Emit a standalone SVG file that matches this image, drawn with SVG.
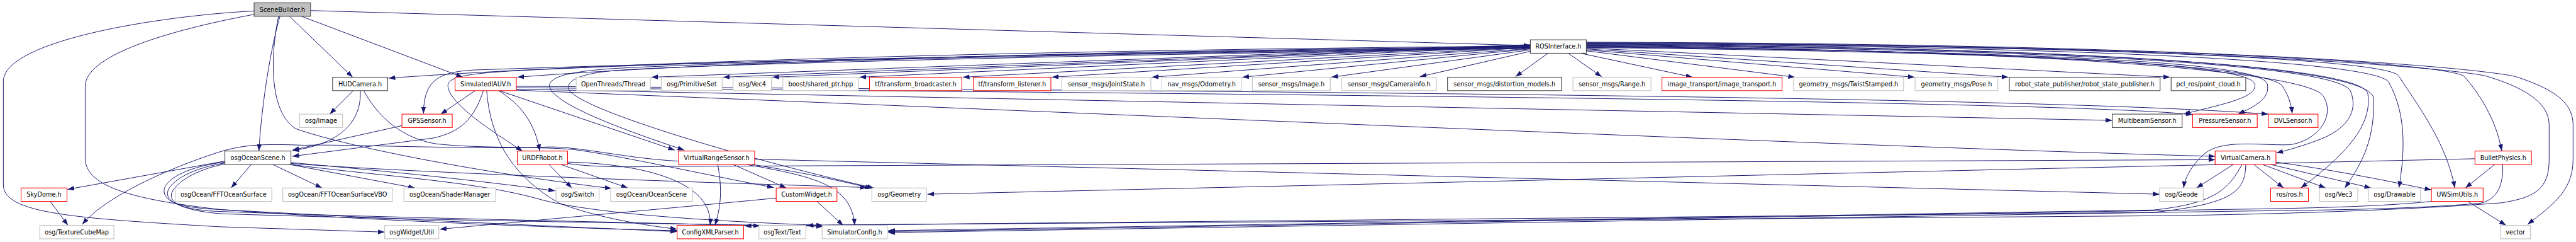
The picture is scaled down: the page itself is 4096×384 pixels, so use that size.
<svg xmlns="http://www.w3.org/2000/svg" width="4096" height="384" viewBox="0 0 4096 384">
<defs>
<marker id="a" markerUnits="userSpaceOnUse" viewBox="0 0 14 10" refX="14" refY="5" markerWidth="14" markerHeight="10" orient="auto">
<path d="M0,0 L14,5 L0,10 z" fill="#191970"/>
</marker>
<style>
.e path{fill:none;stroke:#191970;stroke-width:1.3;marker-end:url(#a)}
.n rect{fill:#fff;stroke-width:1.4}
.n text{font-family:"DejaVu Sans","Liberation Sans",sans-serif;font-size:12.8px;text-anchor:middle;fill:#000}
.g rect{stroke:#bfbfbf}
.r rect{stroke:#ff0000}
.k rect{stroke:#404040}
.root rect{fill:#bfbfbf;stroke:#404040}
</style>
</defs>
<rect width="4096" height="384" fill="#fff"/>
<g transform="scale(0.7609)">
<g id="edges" class="e">
<path d="M531,23 C330,33 7,85 7,170 L7,385 C7,445 150,455 460,473 L804,484"/>
<path d="M531,30 C380,58 178,110 178,180 L178,330 C178,395 300,418 460,437 C800,462 1200,476 1415,481"/>
<path d="M649,22 L3198,95"/>
<path d="M605,34 L737,161"/>
<path d="M630,34 L967,161"/>
<path d="M585,34 C563,110 546,230 541,315"/>
<path d="M582,34 C566,110 560,230 617,268 C720,305 1000,360 1278,393"/>
<path d="M3198,96 C2200,104 1300,128 812,163"/>
<path d="M3198,97 C2300,106 1500,128 1081,161"/>
<path d="M3198,98 C2300,108 1300,135 990,146 C920,150 885,165 885,237"/>
<path d="M3198,99 C2300,110 1500,128 1200,142 C1000,150 938,155 936,178 C936,215 1030,275 1092,315"/>
<path d="M3198,100 C2300,112 1500,130 1280,143 C1180,150 1150,162 1148,178 C1150,215 1300,270 1430,313"/>
<path d="M3198,101 C2300,114 1500,133 1300,146 C1210,152 1185,168 1188,185 C1200,225 1550,330 1826,392"/>
<path d="M3198,93 L1361,161"/>
<path d="M3198,94 L1511,161"/>
<path d="M3198,95 L1614,161"/>
<path d="M3198,96 L1796,161"/>
<path d="M3198,98 L2012,161"/>
<path d="M3198,99 L2198,161"/>
<path d="M3198,101 L2407,161"/>
<path d="M3198,102 L2596,161"/>
<path d="M3198,104 L2782,161"/>
<path d="M3198,107 L2967,160"/>
<path d="M3235,111 L3167,160"/>
<path d="M3277,111 L3347,160"/>
<path d="M3303,111 L3537,161"/>
<path d="M3315,106 L3751,161"/>
<path d="M3315,104 L4001,161"/>
<path d="M3315,102 L4197,161"/>
<path d="M3315,100 L4535,161"/>
<path d="M3315,99 C4300,110 4720,135 4712,178 C4714,205 4640,218 4563,238"/>
<path d="M3315,98 C4300,108 4725,130 4738,175 C4745,205 4712,222 4677,238"/>
<path d="M3315,97 C4300,106 4745,140 4770,180 C4782,200 4788,215 4790,237"/>
<path d="M3315,96 C4300,104 4820,150 4855,200 C4885,250 4830,300 4780,302 C4720,303 4640,290 4605,322 C4580,345 4566,370 4563,392"/>
<path d="M3315,95 C4400,103 4890,140 4912,190 C4930,235 4900,270 4850,290 C4810,305 4785,312 4757,319"/>
<path d="M3315,94 C4400,100 4935,140 4948,195 C4958,260 4905,320 4808,392"/>
<path d="M3315,93 C4400,98 4955,140 4960,205 C4963,285 4940,335 4900,392"/>
<path d="M3315,92 C4400,96 4975,130 4992,172 C5030,240 5025,320 5013,392"/>
<path d="M3315,91 C4500,95 4995,128 5012,158 C5060,230 5112,300 5130,392"/>
<path d="M3315,90 C4600,93 5130,135 5150,160 C5190,205 5218,260 5228,315"/>
<path d="M3315,89 C4600,92 5160,145 5200,160 C5290,188 5327,220 5327,262 L5327,333 C5327,392 5300,412 5227,423 C5000,440 4700,448 4500,450 C3500,458 2000,466 1686,470"/>
<path d="M3315,88 C4700,91 5200,145 5258,160 C5350,190 5377,220 5377,262 L5377,333 C5377,400 5330,430 5282,468"/>
<path d="M5213,343 L5152,392"/>
<path d="M5172,331 L1938,405"/>
<path d="M5230,343 C5232,395 5212,418 5182,424 C5050,435 4900,438 4700,440 L1856,485"/>
<path d="M5157,420 L5237,470"/>
<path d="M5081,420 C5000,428 4900,433 4700,436 L1856,483"/>
<path d="M4667,343 L4590,392"/>
<path d="M4710,343 L4772,392"/>
<path d="M4728,343 L4860,392"/>
<path d="M4745,343 L4955,392"/>
<path d="M4756,338 C4900,358 5000,380 5081,396"/>
<path d="M4685,343 C4655,400 4620,425 4500,438 L1856,481"/>
<path d="M4693,343 C4692,400 4665,425 4500,443 L1556,471"/>
<path d="M1500,343 C1507,385 1510,420 1494,470"/>
<path d="M1532,343 L1643,392"/>
<path d="M1560,343 C1700,368 1780,385 1786,470"/>
<path d="M1577,332 L4513,405"/>
<path d="M1572,343 C1680,360 1760,378 1822,393"/>
<path d="M1418,336 C1300,330 1200,302 1133,307 C1000,312 700,300 637,303 C560,300 510,300 455,318 C350,352 220,410 172,468"/>
<path d="M1147,343 L1195,392"/>
<path d="M1172,343 L1312,392"/>
<path d="M1186,338 C1350,342 1490,380 1484,470"/>
<path d="M1186,341 C1250,350 1320,348 1400,347 L4629,333"/>
<path d="M1707,420 L1762,470"/>
<path d="M1622,413 C1500,425 1200,452 919,478"/>
<path d="M993,189 L921,238"/>
<path d="M1010,189 C992,245 965,275 905,288 L611,326"/>
<path d="M1017,189 C1025,300 1080,372 1167,423 C1250,455 1350,470 1415,478"/>
<path d="M1042,189 C1100,225 1120,270 1128,315"/>
<path d="M1043,189 L1410,313"/>
<path d="M1079,180 C3000,192 4300,205 4740,238"/>
<path d="M1079,183 C3000,198 4350,214 4582,239"/>
<path d="M1079,186 L4414,251"/>
<path d="M1079,188 C2500,245 4000,310 4629,326"/>
<path d="M840,262 L611,313"/>
<path d="M738,189 L689,238"/>
<path d="M753,189 C756,262 700,302 611,314"/>
<path d="M760,189 C800,262 860,292 912,300 C1000,310 1130,305 1200,312 C1300,325 1500,370 1617,391"/>
<path d="M470,336 L141,395"/>
<path d="M525,343 L483,392"/>
<path d="M570,343 L673,392"/>
<path d="M605,343 L867,392"/>
<path d="M608,339 C750,352 950,370 1160,398"/>
<path d="M608,341 C900,362 1450,380 1812,391"/>
<path d="M608,343 C800,368 1000,378 1133,417 C1250,447 1500,462 1720,470"/>
<path d="M470,338 C385,348 340,378 343,400 C346,428 400,434 460,437 C800,456 1200,474 1415,483"/>
<path d="M470,340 C390,352 348,385 350,405 C352,432 420,440 460,441 C800,454 1300,463 1588,471"/>
<path d="M470,342 C395,356 355,392 358,410 C362,435 430,444 470,446 C900,460 1400,466 1720,472"/>
<path d="M105,420 L142,470"/>
</g>
<g id="n_SceneBuilder" class="n root"><rect x="531" y="6" width="118" height="28"/><text x="590" y="24.5">SceneBuilder.h</text></g>
<g id="n_ROSInterface" class="n k"><rect x="3198" y="83" width="117" height="28"/><text x="3256.5" y="101.5">ROSInterface.h</text></g>
<g id="n_HUDCamera" class="n k"><rect x="695" y="161" width="115" height="28"/><text x="752.5" y="179.5">HUDCamera.h</text></g>
<g id="n_SimulatedIAUV" class="n r"><rect x="951" y="161" width="128" height="28"/><text x="1015" y="179.5">SimulatedIAUV.h</text></g>
<g id="n_OpenThreads" class="n g"><rect x="1204" y="161" width="155" height="28"/><text x="1281.5" y="179.5">OpenThreads/Thread</text></g>
<g id="n_PrimitiveSet" class="n g"><rect x="1382" y="161" width="127" height="28"/><text x="1445.5" y="179.5">osg/PrimitiveSet</text></g>
<g id="n_Vec4" class="n g"><rect x="1532" y="161" width="80" height="28"/><text x="1572" y="179.5">osg/Vec4</text></g>
<g id="n_shared_ptr" class="n g"><rect x="1636" y="161" width="158" height="28"/><text x="1715" y="179.5">boost/shared_ptr.hpp</text></g>
<g id="n_tf_broadcaster" class="n r"><rect x="1817" y="161" width="193" height="28"/><text x="1913.5" y="179.5">tf/transform_broadcaster.h</text></g>
<g id="n_tf_listener" class="n r"><rect x="2034" y="161" width="162" height="28"/><text x="2115" y="179.5">tf/transform_listener.h</text></g>
<g id="n_JointState" class="n g"><rect x="2219" y="161" width="186" height="28"/><text x="2312" y="179.5">sensor_msgs/JointState.h</text></g>
<g id="n_Odometry" class="n g"><rect x="2428" y="161" width="166" height="28"/><text x="2511" y="179.5">nav_msgs/Odometry.h</text></g>
<g id="n_ImageMsg" class="n g"><rect x="2617" y="161" width="163" height="28"/><text x="2698.5" y="179.5">sensor_msgs/Image.h</text></g>
<g id="n_CameraInfo" class="n g"><rect x="2804" y="161" width="198" height="28"/><text x="2903" y="179.5">sensor_msgs/CameraInfo.h</text></g>
<g id="n_distortion" class="n k"><rect x="3025" y="161" width="238" height="28"/><text x="3144" y="179.5">sensor_msgs/distortion_models.h</text></g>
<g id="n_Range" class="n g"><rect x="3287" y="161" width="163" height="28"/><text x="3368.5" y="179.5">sensor_msgs/Range.h</text></g>
<g id="n_image_transport" class="n r"><rect x="3473" y="161" width="251" height="28"/><text x="3598.5" y="179.5">image_transport/image_transport.h</text></g>
<g id="n_TwistStamped" class="n g"><rect x="3748" y="161" width="230" height="28"/><text x="3863" y="179.5">geometry_msgs/TwistStamped.h</text></g>
<g id="n_Pose" class="n g"><rect x="4002" y="161" width="173" height="28"/><text x="4088.5" y="179.5">geometry_msgs/Pose.h</text></g>
<g id="n_rsp" class="n k"><rect x="4199" y="161" width="315" height="28"/><text x="4356.5" y="179.5">robot_state_publisher/robot_state_publisher.h</text></g>
<g id="n_pcl" class="n k"><rect x="4537" y="161" width="156" height="28"/><text x="4615" y="179.5">pcl_ros/point_cloud.h</text></g>
<g id="n_osgImage" class="n g"><rect x="626" y="238" width="90" height="28"/><text x="671" y="256.5">osg/Image</text></g>
<g id="n_GPSSensor" class="n r"><rect x="840" y="238" width="105" height="28"/><text x="892.5" y="256.5">GPSSensor.h</text></g>
<g id="n_Multibeam" class="n k"><rect x="4414" y="238" width="146" height="28"/><text x="4487" y="256.5">MultibeamSensor.h</text></g>
<g id="n_Pressure" class="n r"><rect x="4582" y="238" width="135" height="28"/><text x="4649.5" y="256.5">PressureSensor.h</text></g>
<g id="n_DVL" class="n r"><rect x="4740" y="238" width="104" height="28"/><text x="4792" y="256.5">DVLSensor.h</text></g>
<g id="n_osgOceanScene" class="n k"><rect x="470" y="315" width="138" height="28"/><text x="539" y="333.5">osgOceanScene.h</text></g>
<g id="n_URDFRobot" class="n r"><rect x="1081" y="315" width="105" height="28"/><text x="1133.5" y="333.5">URDFRobot.h</text></g>
<g id="n_VRS" class="n r"><rect x="1418" y="315" width="159" height="28"/><text x="1497.5" y="333.5">VirtualRangeSensor.h</text></g>
<g id="n_VirtualCamera" class="n r"><rect x="4629" y="315" width="127" height="28"/><text x="4692.5" y="333.5">VirtualCamera.h</text></g>
<g id="n_BulletPhysics" class="n r"><rect x="5172" y="315" width="118" height="28"/><text x="5231" y="333.5">BulletPhysics.h</text></g>
<g id="n_SkyDome" class="n r"><rect x="44" y="392" width="96" height="28"/><text x="92" y="410.5">SkyDome.h</text></g>
<g id="n_FFT" class="n g"><rect x="366" y="392" width="202" height="28"/><text x="467" y="410.5">osgOcean/FFTOceanSurface</text></g>
<g id="n_FFTVBO" class="n g"><rect x="591" y="392" width="229" height="28"/><text x="705.5" y="410.5">osgOcean/FFTOceanSurfaceVBO</text></g>
<g id="n_ShaderManager" class="n g"><rect x="844" y="392" width="192" height="28"/><text x="940" y="410.5">osgOcean/ShaderManager</text></g>
<g id="n_Switch" class="n g"><rect x="1162" y="392" width="90" height="28"/><text x="1207" y="410.5">osg/Switch</text></g>
<g id="n_OceanScene" class="n g"><rect x="1276" y="392" width="171" height="28"/><text x="1361.5" y="410.5">osgOcean/OceanScene</text></g>
<g id="n_CustomWidget" class="n r"><rect x="1622" y="392" width="127" height="28"/><text x="1685.5" y="410.5">CustomWidget.h</text></g>
<g id="n_Geometry" class="n g"><rect x="1822" y="392" width="114" height="28"/><text x="1879" y="410.5">osg/Geometry</text></g>
<g id="n_Geode" class="n g"><rect x="4513" y="392" width="91" height="28"/><text x="4558.5" y="410.5">osg/Geode</text></g>
<g id="n_ros" class="n r"><rect x="4745" y="392" width="79" height="28"/><text x="4784.5" y="410.5">ros/ros.h</text></g>
<g id="n_Vec3" class="n g"><rect x="4847" y="392" width="80" height="28"/><text x="4887" y="410.5">osg/Vec3</text></g>
<g id="n_Drawable" class="n g"><rect x="4950" y="392" width="108" height="28"/><text x="5004" y="410.5">osg/Drawable</text></g>
<g id="n_UWSimUtils" class="n r"><rect x="5081" y="392" width="108" height="28"/><text x="5135" y="410.5">UWSimUtils.h</text></g>
<g id="n_TextureCubeMap" class="n g"><rect x="83" y="470" width="155" height="28"/><text x="160.5" y="488.5">osg/TextureCubeMap</text></g>
<g id="n_osgWidgetUtil" class="n g"><rect x="804" y="470" width="113" height="28"/><text x="860.5" y="488.5">osgWidget/Util</text></g>
<g id="n_ConfigXMLParser" class="n r"><rect x="1415" y="470" width="139" height="28"/><text x="1484.5" y="488.5">ConfigXMLParser.h</text></g>
<g id="n_osgText" class="n g"><rect x="1586" y="470" width="98" height="28"/><text x="1635" y="488.5">osgText/Text</text></g>
<g id="n_SimulatorConfig" class="n g"><rect x="1718" y="470" width="136" height="28"/><text x="1786" y="488.5">SimulatorConfig.h</text></g>
<g id="n_vector" class="n g"><rect x="5225" y="470" width="63" height="28"/><text x="5256.5" y="488.5">vector</text></g>
</g>
</svg>
